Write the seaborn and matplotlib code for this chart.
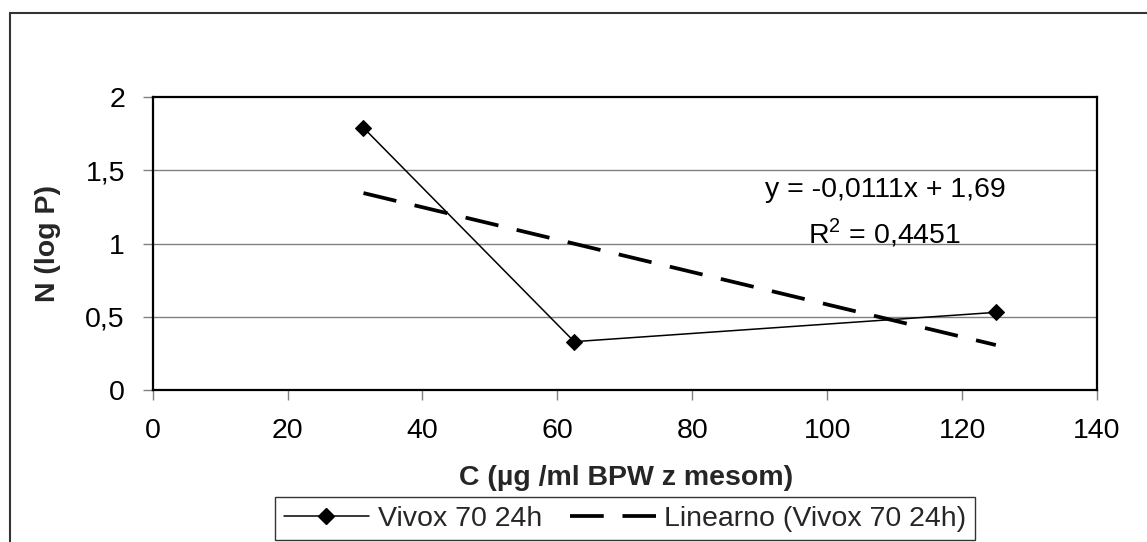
import matplotlib
matplotlib.use("Agg")
import matplotlib.pyplot as plt
import seaborn as sns
import numpy as np
import pandas as pd
from matplotlib.lines import Line2D
from matplotlib.patches import Rectangle

# Data
conc = [31.25, 62.5, 125.0]
logp = [1.79, 0.33, 0.53]
series_name = "Vivox 70 24h"
trend_name = "Linearno (Vivox 70 24h)"
eq_text = "y = -0,0111x + 1,69"
r2_text = "R$^2$ = 0,4451"
xticks = [0, 20, 40, 60, 80, 100, 120, 140]
yticks = [0, 0.5, 1, 1.5, 2]
ytick_labels = ["0", "0,5", "1", "1,5", "2"]
x_label = "C (µg /ml BPW z mesom)"
y_label = "N (log P)"

sns.set_theme(style="white")
plt.rcParams['font.family'] = ['Liberation Sans', 'DejaVu Sans']
plt.rcParams['mathtext.fontset'] = 'custom'
plt.rcParams['mathtext.rm'] = 'Liberation Sans'

FS = 20.5
W, H = 1147, 542
fig = plt.figure(figsize=(W / 100, H / 100), dpi=100)
fig.patch.set_facecolor("white")

ax = fig.add_axes([152.7 / W, 1 - 390 / H, (1097 - 152.7) / W, (390 - 97) / H])

df = pd.DataFrame({"x": conc, "y": logp})
sns.lineplot(data=df, x="x", y="y", ax=ax, color="black", linewidth=1.1,
             marker="D", markersize=8, markeredgecolor="black", zorder=4)

slope, intercept = np.polyfit(conc, logp, 1)
tx = np.array([min(conc), max(conc)])
tdf = pd.DataFrame({"x": tx, "y": slope * tx + intercept})
sns.lineplot(data=tdf, x="x", y="y", ax=ax, color="black", linewidth=2.7,
             zorder=3)
ax.lines[-1].set_dashes([9, 5])

ax.set_xlim(0, 140)
ax.set_ylim(0, 2)
ax.set_xticks(xticks)
ax.set_xticklabels([str(t) for t in xticks])
ax.set_yticks(yticks)
ax.set_yticklabels(ytick_labels)
for y in [0.5, 1, 1.5]:
    ax.axhline(y, color="#808080", linewidth=1.0, zorder=1)

for s in ax.spines.values():
    s.set_visible(True)
    s.set_color("black")
    s.set_linewidth(1.6)

ax.tick_params(axis="both", which="both", direction="out", length=7, width=1,
               color="#808080", labelsize=FS, labelcolor="black", pad=13,
               bottom=True, left=True)
ax.tick_params(axis="x", pad=13)

ax.set_xlabel("")
ax.set_ylabel("")
fig.text(626 / W, 1 - 478 / H, x_label, fontsize=FS, fontweight="bold",
         ha="center", va="center")
fig.text(48 / W, 1 - 244 / H, y_label, fontsize=FS, fontweight="bold",
         ha="center", va="center", rotation=90)

fig.text(885 / W, 1 - 190 / H, eq_text, ha="center", va="center",
         fontsize=FS, color="black")
fig.text(884 / W, 1 - 233 / H, r2_text, ha="center", va="center",
         fontsize=FS, color="black")

handles = [
    Line2D([0], [0], color="black", linewidth=1.1, marker="D", markersize=8),
    Line2D([0], [0], color="black", linewidth=2.7, dashes=[9, 5]),
]
leg = fig.legend(handles, [series_name, trend_name], loc="upper left",
                 bbox_to_anchor=(275 / W, 1 - 497 / H), ncol=2, fontsize=FS,
                 frameon=True, fancybox=False, handlelength=3.0,
                 columnspacing=1.0, handletextpad=0.3, borderpad=0.3,
                 borderaxespad=0)
leg.get_frame().set_edgecolor("black")
leg.get_frame().set_linewidth(1.0)

# Outer chart border (extends beyond the image on right and bottom)
fig.patches.append(Rectangle((10 / W, -0.1), 1.2, (H - 13) / H + 0.1,
                             transform=fig.transFigure, fill=False,
                             edgecolor="#333333", linewidth=1.5, zorder=0))

fig.savefig("out.png", dpi=100, facecolor="white")
